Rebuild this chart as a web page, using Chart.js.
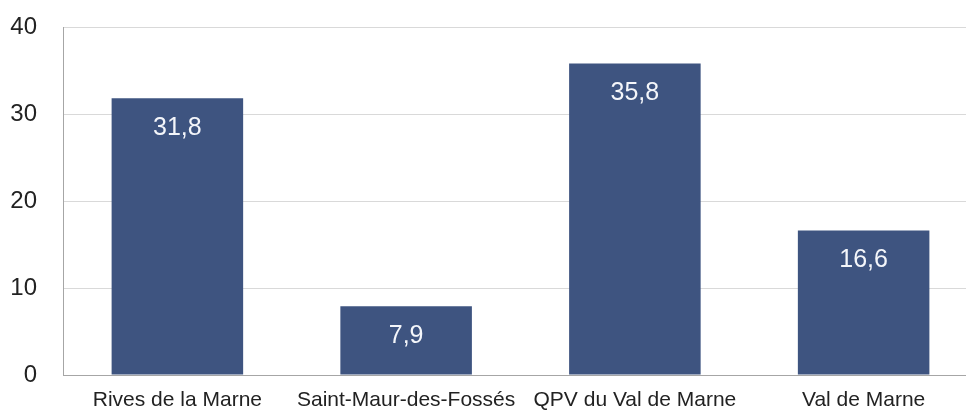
<!DOCTYPE html>
<html>
<head>
<meta charset="utf-8">
<script src="https://cdn.jsdelivr.net/npm/chart.js@4"></script>
<style>
  html, body { margin: 0; padding: 0; background: #fff; overflow: hidden; }
  #wrap { position: relative; width: 980px; height: 410px; }
</style>
</head>
<body>
<div id="wrap"><canvas id="barChart"></canvas></div>
<script>
// données
const categories = ['Rives de la Marne', 'Saint-Maur-des-Fossés', 'QPV du Val de Marne', 'Val de Marne'];
const values = [31.8, 7.9, 35.8, 16.6];
const yTicks = [0, 10, 20, 30, 40];

const barColor = '#3e5480';
const gridColor = '#d9d9d9';
const fontFamily = '"Liberation Sans", Arial, sans-serif';

// étiquettes de valeur dans les barres
const valueLabels = {
    id: 'valueLabels',
    afterDatasetsDraw(chart) {
        const ctx = chart.ctx;
        const meta = chart.getDatasetMeta(0);
        ctx.save();
        ctx.fillStyle = '#f4f6fa';
        ctx.font = '25px ' + fontFamily;
        ctx.textAlign = 'center';
        ctx.textBaseline = 'middle';
        meta.data.forEach((bar, i) => {
            ctx.fillText(values[i].toFixed(1).replace('.', ','), bar.x, bar.y + 30);
        });
        ctx.restore();
    }
};

const ctx = document.getElementById('barChart').getContext('2d');
new Chart(ctx, {
    type: 'bar',
    data: {
        labels: categories,
        datasets: [{
            data: values,
            backgroundColor: barColor,
            borderWidth: 0,
            barPercentage: 0.575,
            categoryPercentage: 1
        }]
    },
    options: {
        responsive: true,
        maintainAspectRatio: false,
        animation: false,
        layout: { padding: { top: 27, right: 2, left: 0, bottom: 0 } },
        plugins: {
            legend: { display: false },
            tooltip: { enabled: false }
        },
        scales: {
            x: {
                grid: { display: false, drawTicks: false },
                border: { color: '#a6a6a6', width: 1 },
                ticks: {
                    color: '#222',
                    padding: 13,
                    maxRotation: 0,
                    font: { family: fontFamily, size: 21 }
                },
                // hauteur fixe, pas de marge pour les libellés
                afterFit(scale) { scale.height = 35; scale.paddingLeft = 0; scale.paddingRight = 0; }
            },
            y: {
                min: 0,
                max: 40,
                afterBuildTicks(scale) { scale.ticks = yTicks.map(v => ({ value: v })); },
                grid: { color: gridColor, drawTicks: false },
                border: { color: '#a6a6a6', width: 1 },
                ticks: {
                    color: '#222',
                    padding: 26,
                    font: { family: fontFamily, size: 24 }
                },
                afterFit(scale) { scale.width = 63; scale.paddingTop = 0; scale.paddingBottom = 0; }
            }
        }
    },
    plugins: [valueLabels]
});
</script>
</body>
</html>
